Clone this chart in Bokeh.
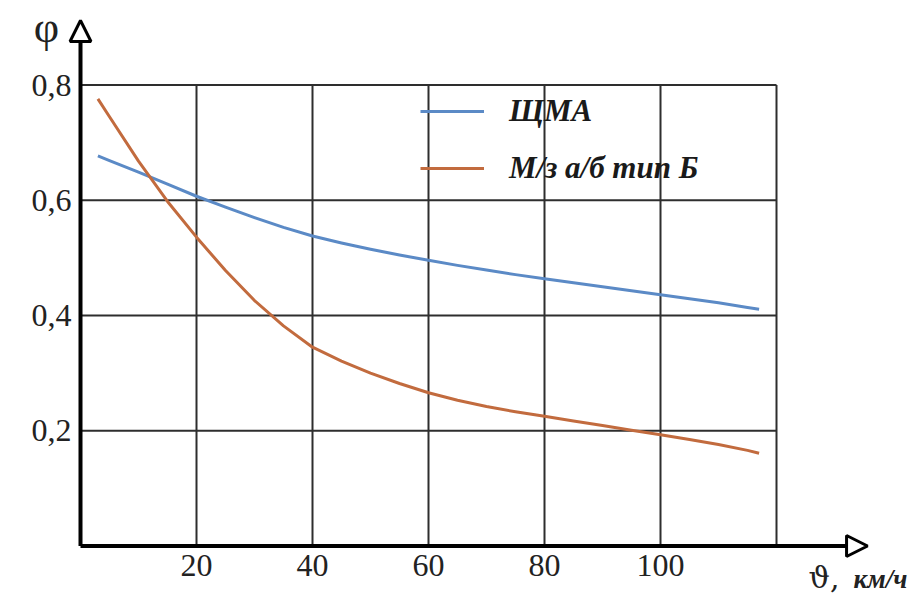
from bokeh.plotting import figure
from bokeh.models import Arrow, NormalHead, Legend, LegendItem, Label
from bokeh.embed import file_html
from bokeh.resources import INLINE
from bokeh.core.properties import value

# ---- data ----
speed = [3, 5, 10, 15, 20, 25, 30, 35, 40, 45, 50, 55, 60, 65, 70, 75, 80,
         85, 90, 95, 100, 105, 110, 115, 117]
phi_shma = [0.677, 0.669, 0.649, 0.628, 0.607, 0.588, 0.570, 0.553, 0.538,
            0.526, 0.515, 0.505, 0.496, 0.487, 0.479, 0.471, 0.464,
            0.457, 0.450, 0.443, 0.436, 0.429, 0.422, 0.414, 0.411]
phi_mz = [0.776, 0.745, 0.668, 0.598, 0.536, 0.478, 0.426, 0.382, 0.345,
          0.321, 0.300, 0.282, 0.266, 0.253, 0.242, 0.233, 0.225,
          0.217, 0.209, 0.201, 0.193, 0.185, 0.176, 0.166, 0.161]
series_names = ["ЩМА", "М/з а/б тип Б"]

x_ticks = [20, 40, 60, 80, 100]
x_tick_labels = ["20", "40", "60", "80", "100"]
y_ticks = [0.2, 0.4, 0.6, 0.8]
y_tick_labels = ["0,2", "0,4", "0,6", "0,8"]
grid_x = [20, 40, 60, 80, 100, 120]
grid_y = [0.2, 0.4, 0.6, 0.8]
x_max = 120
y_max = 0.8
x_arrow_end = 135.7
y_arrow_end = 0.912

# ---- layout ----
W, H = 922, 594
PX_X = 5.8      # pixels per km/h
PX_Y = 576.2    # pixels per unit of phi
X0 = 80.0       # pixel column of x = 0
Y0 = 545.5      # pixel row (from top) of y = 0

p = figure(width=W, height=H,
           x_range=(-X0 / PX_X, (W - X0) / PX_X),
           y_range=((Y0 - H) / PX_Y, Y0 / PX_Y),
           output_backend="svg", toolbar_location=None,
           x_axis_location=None, y_axis_location=None,
           title_location=None, min_border=0,
           outline_line_color=None,
           background_fill_color="white", border_fill_color="white")
p.grid.visible = False

GRID = "#2e2e2e"
p.segment(x0=grid_x, y0=[0] * len(grid_x), x1=grid_x, y1=[y_max] * len(grid_x),
          line_color=GRID, line_width=2)
p.segment(x0=[0] * len(grid_y), y0=grid_y, x1=[x_max] * len(grid_y), y1=grid_y,
          line_color=GRID, line_width=2)

BLUE = "#5b8ac6"
ORANGE = "#c26b3e"
r1 = p.line(speed, phi_shma, line_color=BLUE, line_width=3, line_join="round")
r2 = p.line(speed, phi_mz, line_color=ORANGE, line_width=3, line_join="round")

# axes with arrow heads
p.add_layout(Arrow(end=NormalHead(size=21, fill_color="white", line_color="black", line_width=3),
                   x_start=0, y_start=0, x_end=0, y_end=y_arrow_end,
                   line_color="black", line_width=4))
p.add_layout(Arrow(end=NormalHead(size=21, fill_color="white", line_color="black", line_width=3),
                   x_start=0, y_start=0, x_end=x_arrow_end, y_end=0,
                   line_color="black", line_width=4))

FONT = value("Liberation Serif")
p.text(x=x_ticks, y=[0] * len(x_ticks), text=x_tick_labels,
       text_align="center", text_baseline="top", y_offset=9,
       text_font=FONT, text_font_size="32px", text_color="#222222")
p.text(x=[0] * len(y_ticks), y=y_ticks, text=y_tick_labels,
       text_align="right", text_baseline="middle", x_offset=-9,
       text_font=FONT, text_font_size="32px", text_color="#222222")

p.add_layout(Label(x=(46 - X0) / PX_X, y=(Y0 - 27) / PX_Y, text="φ",
                   text_align="center", text_baseline="middle",
                   text_font="Liberation Serif", text_font_size="44px",
                   text_color="#222222"))
p.add_layout(Label(x=(808 - X0) / PX_X, y=(Y0 - 577) / PX_Y, text="ϑ,",
                   text_align="left", text_baseline="alphabetic",
                   text_font="DejaVu Serif", text_font_size="30px",
                   text_color="#222222"))
p.add_layout(Label(x=(853 - X0) / PX_X, y=(Y0 - 578) / PX_Y, text="км/ч",
                   text_align="left", text_baseline="alphabetic",
                   text_font="Liberation Serif", text_font_style="bold italic",
                   text_font_size="27px", text_color="#222222"))

legend = Legend(items=[LegendItem(label=series_names[0], renderers=[r1]),
                       LegendItem(label=series_names[1], renderers=[r2])],
                location=(420, 408), orientation="vertical",
                glyph_width=64, glyph_height=30, label_height=30,
                spacing=21, label_standoff=25, padding=0, margin=0,
                border_line_color=None, background_fill_alpha=0,
                label_text_font="Liberation Serif",
                label_text_font_style="bold italic",
                label_text_font_size="31px", label_text_color="#1a1a1a")
p.add_layout(legend)

open("out.html", "w").write(file_html(p, INLINE))
